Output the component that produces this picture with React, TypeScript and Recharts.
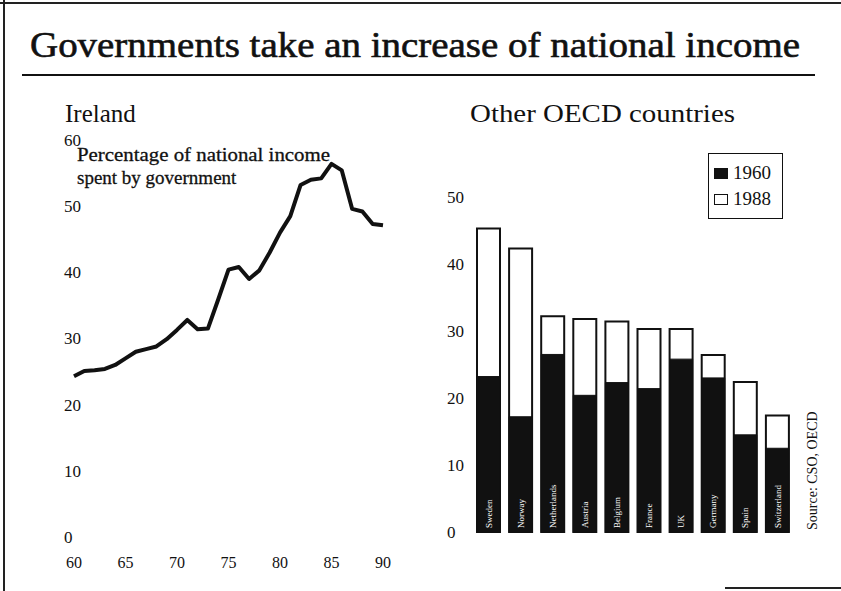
import { LineChart, Line, XAxis, YAxis, BarChart, Bar, LabelList, Legend } from "recharts";

const FONT = "'Liberation Serif', 'Times New Roman', serif";

// Ireland: government spending as % of national income
const years = [
    1960, 1961, 1962, 1963, 1964, 1965, 1966, 1967, 1968, 1969,
    1970, 1971, 1972, 1973, 1974, 1975, 1976, 1977, 1978, 1979,
    1980, 1981, 1982, 1983, 1984, 1985, 1986, 1987, 1988, 1989, 1990
];
const irelandShare = [
    24.3, 25.1, 25.2, 25.4, 26.0, 27.0, 28.0, 28.4, 28.8, 29.9,
    31.3, 32.8, 31.4, 31.5, 35.9, 40.4, 40.8, 39.0, 40.3, 43.0,
    46.0, 48.5, 53.2, 54.0, 54.2, 56.4, 55.4, 49.6, 49.2, 47.3, 47.1
];
const yearTicks = [1960, 1965, 1970, 1975, 1980, 1985, 1990];
const irelandTicks = [0, 10, 20, 30, 40, 50, 60];

// Other OECD countries
const countries = [
    "Sweden", "Norway", "Netherlands", "Austria", "Belgium",
    "France", "UK", "Germany", "Spain", "Switzerland"
];
const share1960 = [23.2, 17.2, 26.5, 20.4, 22.3, 21.4, 25.8, 23.0, 14.5, 12.5];
const share1988 = [45.3, 42.3, 32.2, 31.8, 31.4, 30.3, 30.3, 26.4, 22.4, 17.4];
const oecdTicks = [0, 10, 20, 30, 40, 50];

const lineData = years.map((year, i) => ({ year, share: irelandShare[i] }));
const barData = countries.map((country, i) => ({
    country,
    y1960: share1960[i],
    y1988: share1988[i]
}));

const YearTick = ({ x, payload }: any) => (
    <text x={x} y={562} dy="0.35em" textAnchor="middle" fontFamily={FONT} fontSize={16} fill="#111">
        {String(payload.value).slice(2)}
    </text>
);

const makeValueTick = (left: number) => ({ y, payload }: any) => (
    <text x={left} y={y} dy="0.35em" textAnchor="start" fontFamily={FONT} fontSize={17} fill="#111">
        {payload.value}
    </text>
);

const CountryLabel = (props: any) => {
    const { x, y, width, height, index } = props;
    const cx = x + width / 2;
    const bottom = y + height - 4;
    return (
        <text
            x={cx}
            y={bottom}
            dy="0.35em"
            transform={`rotate(-90, ${cx}, ${bottom})`}
            fontFamily={FONT}
            fontSize={9}
            fill="#fff"
        >
            {countries[index]}
        </text>
    );
};

const LegendBox = () => (
    <div
        style={{
            border: "1.5px solid #111",
            width: 68,
            padding: "6px 0 6px 5px",
            background: "#fff",
            fontFamily: FONT,
            fontSize: 19,
            lineHeight: "26px",
            color: "#111"
        }}
    >
        <div style={{ display: "flex", alignItems: "center" }}>
            <span style={{ width: 14, height: 11, background: "#111", marginRight: 5 }} />
            1960
        </div>
        <div style={{ display: "flex", alignItems: "center" }}>
            <span style={{ width: 12, height: 9, border: "1px solid #111", marginRight: 5 }} />
            1988
        </div>
    </div>
);

export default function App() {
    return (
        <div style={{ position: "absolute", left: 0, top: 0, width: 841, height: 591, background: "#fff", overflow: "hidden" }}>
            <div style={{ position: "absolute", left: 0, top: 0 }}>
                <LineChart width={420} height={591} data={lineData} margin={{ top: 140, right: 37, left: 44, bottom: 24 }}>
                    <XAxis
                        dataKey="year"
                        type="number"
                        domain={[1960, 1990]}
                        ticks={yearTicks}
                        axisLine={false}
                        tickLine={false}
                        height={30}
                        tick={<YearTick />}
                    />
                    <YAxis
                        domain={[0, 60]}
                        ticks={irelandTicks}
                        axisLine={false}
                        tickLine={false}
                        width={30}
                        tick={makeValueTick(64)}
                    />
                    <Line
                        dataKey="share"
                        type="linear"
                        stroke="#111"
                        strokeWidth={4}
                        dot={false}
                        strokeLinejoin="round"
                        isAnimationActive={false}
                    />
                </LineChart>
            </div>

            <div style={{ position: "absolute", left: 420, top: 0 }}>
                <BarChart
                    width={421}
                    height={591}
                    data={barData}
                    margin={{ top: 197, right: 48, left: 22, bottom: 59 }}
                    barSize={23}
                    barGap={-23}
                >
                    <XAxis dataKey="country" hide />
                    <YAxis
                        domain={[0, 50]}
                        ticks={oecdTicks}
                        axisLine={false}
                        tickLine={false}
                        width={30}
                        tick={makeValueTick(27)}
                    />
                    <Legend
                        layout="horizontal"
                        verticalAlign="middle"
                        align="center"
                        content={<LegendBox />}
                        wrapperStyle={{ position: "absolute", left: 288, top: 153, width: 74, height: 66 }}
                    />
                    <Bar dataKey="y1988" name="1988" fill="#fff" stroke="#111" strokeWidth={2} isAnimationActive={false} />
                    <Bar dataKey="y1960" name="1960" fill="#111" stroke="#111" strokeWidth={1} isAnimationActive={false}>
                        <LabelList dataKey="y1960" content={<CountryLabel />} />
                    </Bar>
                </BarChart>
            </div>

            <svg width={841} height={591} style={{ position: "absolute", left: 0, top: 0, pointerEvents: "none" }}>
                <line x1={0} y1={3} x2={841} y2={3} stroke="#222" strokeWidth={2} />
                <line x1={4} y1={0} x2={4} y2={591} stroke="#222" strokeWidth={2} />
                <line x1={725} y1={588} x2={841} y2={588} stroke="#222" strokeWidth={2} />
                <text x={30} y={57} fontFamily={FONT} fontSize={35} fill="#111" stroke="#111" strokeWidth={0.6} textLength={770} lengthAdjust="spacingAndGlyphs">
                    Governments take an increase of national income
                </text>
                <line x1={22} y1={75} x2={815} y2={75} stroke="#111" strokeWidth={2} />
                <text x={65} y={122} fontFamily={FONT} fontSize={25} fill="#111">Ireland</text>
                <text x={470} y={122} fontFamily={FONT} fontSize={25} fill="#111" textLength={265} lengthAdjust="spacingAndGlyphs">
                    Other OECD countries
                </text>
                <text x={77} y={161} fontFamily={FONT} fontSize={19} fill="#111" stroke="#111" strokeWidth={0.3} textLength={253} lengthAdjust="spacingAndGlyphs">
                    Percentage of national income
                </text>
                <text x={77} y={184} fontFamily={FONT} fontSize={19} fill="#111" stroke="#111" strokeWidth={0.3}>
                    spent by government
                </text>
                <text x={812} y={530} transform="rotate(-90, 812, 530)" dy="0.35em" fontFamily={FONT} fontSize={14} fill="#111">
                    Source: CSO, OECD
                </text>
            </svg>
        </div>
    );
}
